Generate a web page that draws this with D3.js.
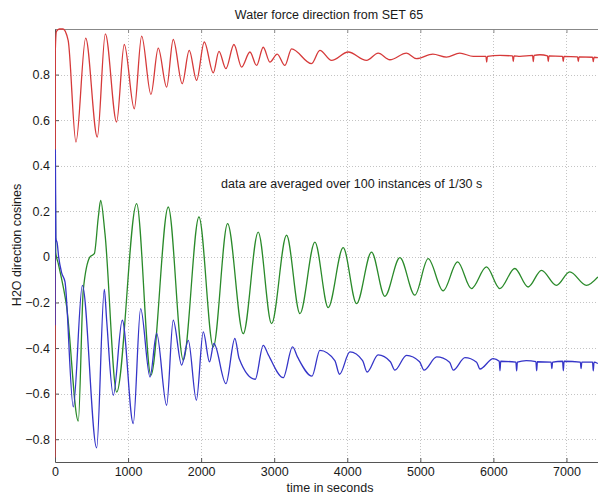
<!DOCTYPE html>
<html>
<head>
<meta charset="utf-8">
<script src="https://cdn.jsdelivr.net/npm/d3@7"></script>
<style>
  html, body { margin: 0; padding: 0; background: #fff; }
  svg { display: block; font-family: Arial, "Liberation Sans", Helvetica, sans-serif; }
</style>
</head>
<body>
<svg id="chart" width="598" height="495"></svg>
<script>
// Direction cosines of the water force, [time in s, cosine] pairs
const redSeries = [
  [0,-0.88],[4,0.9],[20,0.99],[60,1.0],[110,1.0],[180,0.95],[287,0.504],[420,0.96],[579,0.526],
  [689,0.979],[843,0.592],[948,0.932],[1085,0.650],[1186,0.969],[1313,0.713],[1413,0.916],
  [1528,0.745],[1618,0.954],[1741,0.760],[1837,0.906],[1938,0.775],[2043,0.943],[2166,0.808],
  [2244,0.902],[2339,0.826],[2449,0.932],[2554,0.833],[2668,0.899],[2759,0.840],[2850,0.92],
  [2941,0.855],[3041,0.89],[3146,0.84],[3238,0.913],[3511,0.848],[3625,0.906],[3785,0.862],
  [4013,0.899],[4264,0.862],[4423,0.894],[4583,0.865],[4811,0.894],[4948,0.870],[5171,0.89],
  [5358,0.877],[5540,0.894],[5725,0.880],[5898,0.880],[5908,0.855],[5918,0.880],[6090,0.884],
  [6262,0.882],[6272,0.857],[6282,0.882],[6364,0.880],[6536,0.884],[6546,0.857],[6556,0.884],
  [6637,0.887],[6741,0.882],[6751,0.857],[6761,0.882],[6946,0.880],[6956,0.857],[6966,0.880],
  [7152,0.878],[7162,0.857],[7172,0.878],[7357,0.876],[7367,0.857],[7377,0.876],[7430,0.874]
];

const greenSeries = [
  [2,0.45],[10,0.02],[45,-0.03],[160,-0.22],[319,-0.72],[387,-0.146],[479,0.0],[538,0.014],
  [593,0.175],[625,0.248],[684,0.102],[844,-0.593],[1117,0.234],[1313,-0.519],[1550,0.219],
  [1756,-0.453],[1970,0.175],[2166,-0.395],[2362,0.146],[2576,-0.337],[2781,0.109],[2964,-0.293],
  [3169,0.095],[3352,-0.249],[3557,0.065],[3739,-0.222],[3944,0.041],[4127,-0.205],[4332,0.021],
  [4514,-0.173],[4720,-0.003],[4925,-0.168],[5107,-0.008],[5312,-0.149],[5509,-0.022],
  [5700,-0.139],[5905,-0.044],[6088,-0.139],[6293,-0.051],[6475,-0.132],[6658,-0.059],
  [6863,-0.125],[7045,-0.066],[7273,-0.125],[7430,-0.088]
];

const blueSeries = [
  [0,-0.3],[5,0.47],[12,0.08],[30,0.06],[50,0.0],[91,-0.07],[137,-0.11],[250,-0.658],
  [374,-0.125],[570,-0.838],[675,-0.143],[707,-0.278],[798,-0.607],[921,-0.278],[1071,-0.731],
  [1172,-0.227],[1300,-0.527],[1391,-0.336],[1528,-0.651],[1618,-0.278],[1733,-0.475],
  [1824,-0.366],[1935,-0.629],[2029,-0.329],[2115,-0.461],[2175,-0.38],[2339,-0.556],
  [2462,-0.358],[2520,-0.446],[2740,-0.537],[2850,-0.388],[2920,-0.43],[3123,-0.53],
  [3251,-0.395],[3320,-0.44],[3518,-0.523],[3625,-0.41],[3830,-0.455],[3894,-0.515],
  [4036,-0.417],[4210,-0.455],[4271,-0.505],[4423,-0.43],[4590,-0.46],[4651,-0.497],
  [4811,-0.432],[4990,-0.46],[5050,-0.497],[5224,-0.439],[5400,-0.462],[5451,-0.497],
  [5611,-0.442],[5770,-0.462],[5816,-0.492],[5998,-0.446],[6080,-0.458],[6090,-0.5],
  [6100,-0.458],[6308,-0.462],[6318,-0.5],[6328,-0.462],[6450,-0.455],[6582,-0.46],
  [6592,-0.5],[6602,-0.46],[6790,-0.462],[6800,-0.49],[6810,-0.462],[6947,-0.458],
  [6957,-0.5],[6967,-0.458],[7190,-0.462],[7200,-0.49],[7210,-0.462],[7357,-0.462],
  [7367,-0.5],[7377,-0.462],[7430,-0.468]
];

const xTicks = [0, 1000, 2000, 3000, 4000, 5000, 6000, 7000];
const yTicks = [-0.8, -0.6, -0.4, -0.2, 0, 0.2, 0.4, 0.6, 0.8];

const titleText = "Water force direction from SET 65";
const xLabel = "time in seconds";
const yLabel = "H2O direction cosines";
const noteText = "data are averaged over 100 instances of 1/30 s";

// Layout
const W = 598, H = 495;
const plot = { left: 55, top: 29, right: 603, bottom: 462 };
const font = "Arial, 'Liberation Sans', Helvetica, sans-serif";
const fontSize = 12.5;

const svg = d3.select("#chart");

const x = d3.scaleLinear().domain([0, 7500]).range([plot.left, plot.right]);
const y = d3.scaleLinear().domain([-0.9, 1.0]).range([plot.bottom, plot.top]);

// Dotted grid
const grid = svg.append("g").attr("stroke", "#c4c4c4").attr("stroke-dasharray", "1,2").attr("stroke-width", 1);
grid.selectAll("line.gx").data(xTicks.filter(d => d > 0)).join("line")
  .attr("x1", d => Math.round(x(d)) + 0.5).attr("x2", d => Math.round(x(d)) + 0.5)
  .attr("y1", plot.top).attr("y2", plot.bottom);
grid.selectAll("line.gy").data(yTicks).join("line")
  .attr("y1", d => Math.round(y(d)) + 0.5).attr("y2", d => Math.round(y(d)) + 0.5)
  .attr("x1", plot.left).attr("x2", plot.right);

// Axes with inward ticks
const fmtY = d => d === 0 ? "0" : d3.format(".1f")(d);
const styleAxis = g => {
  g.selectAll(".domain").attr("stroke", "#555");
  g.selectAll(".tick line").attr("stroke", "#555");
  g.selectAll("text").attr("fill", "#1a1a1a").attr("font-size", fontSize).attr("font-family", font);
};

svg.append("g").attr("transform", `translate(0,${plot.bottom})`)
  .call(d3.axisBottom(x).tickValues(xTicks).tickFormat(d3.format("d")).tickSize(-4).tickPadding(5).tickSizeOuter(0))
  .call(styleAxis);

svg.append("g").attr("transform", `translate(0,${plot.top})`)
  .call(d3.axisTop(x).tickValues(xTicks).tickFormat("").tickSize(-4).tickSizeOuter(0))
  .call(g => g.selectAll(".domain").attr("stroke", "#888"))
  .call(g => g.selectAll(".tick line").attr("stroke", "#888"));

svg.append("g").attr("transform", `translate(${plot.left},0)`)
  .call(d3.axisLeft(y).tickValues(yTicks).tickFormat(fmtY).tickSize(-4).tickPadding(5).tickSizeOuter(0))
  .call(styleAxis);

// Clip for the data lines
svg.append("clipPath").attr("id", "plotClip").append("rect")
  .attr("x", plot.left).attr("y", plot.top - 1)
  .attr("width", plot.right - plot.left).attr("height", plot.bottom - plot.top + 1);

const line = d3.line()
  .x(d => x(d[0]))
  .y(d => y(d[1]))
  .curve(d3.curveMonotoneX);

const lines = svg.append("g").attr("clip-path", "url(#plotClip)").attr("fill", "none").attr("stroke-width", 1.3);
[
  { data: redSeries, color: "#d63a3a" },
  { data: greenSeries, color: "#2a8a2a" },
  { data: blueSeries, color: "#3535c8" }
].forEach(s => {
  lines.append("path").datum(s.data).attr("d", line).attr("stroke", s.color);
});

// Texts
svg.append("text").attr("x", (plot.left + plot.right) / 2).attr("y", 19)
  .attr("text-anchor", "middle").attr("font-size", fontSize).attr("font-family", font).attr("fill", "#1a1a1a")
  .text(titleText);

svg.append("text").attr("x", 330).attr("y", 492)
  .attr("text-anchor", "middle").attr("font-size", fontSize).attr("font-family", font).attr("fill", "#1a1a1a")
  .text(xLabel);

svg.append("text").attr("transform", `translate(21,245) rotate(-90)`)
  .attr("text-anchor", "middle").attr("font-size", fontSize).attr("font-family", font).attr("fill", "#1a1a1a")
  .text(yLabel);

svg.append("text").attr("x", 221).attr("y", 188)
  .attr("font-size", fontSize).attr("font-family", font).attr("fill", "#1a1a1a")
  .text(noteText);
</script>
</body>
</html>
